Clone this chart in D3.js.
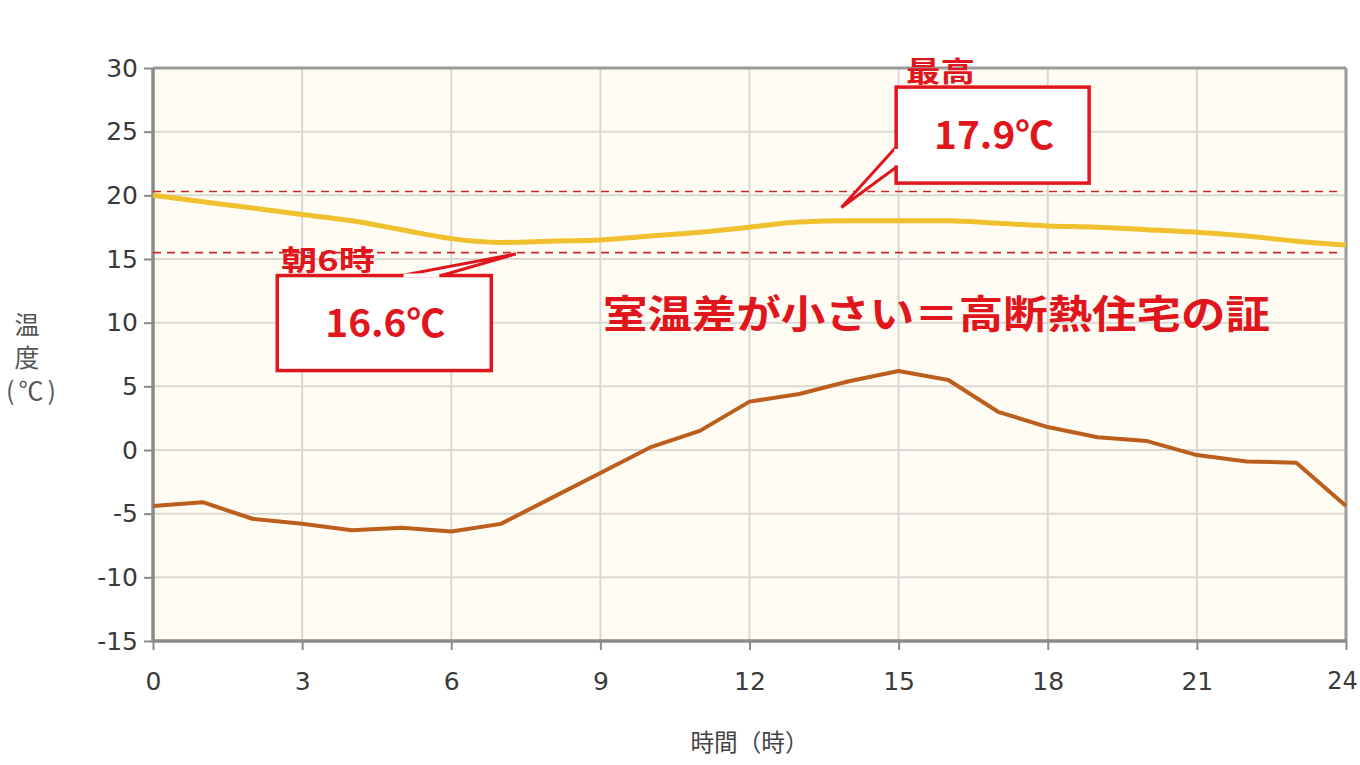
<!DOCTYPE html>
<html><head><meta charset="utf-8">
<script src="https://cdn.jsdelivr.net/npm/d3@7"></script>
<style>
html,body{margin:0;padding:0;background:#fff;}
svg{display:block;}
</style></head>
<body>
<svg id="c" width="1360" height="765"></svg>
<script>
const hours = d3.range(0, 25);
const indoor = [20.0,19.5,19.0,18.5,18.0,17.3,16.6,16.3,16.4,16.5,16.8,17.1,17.5,17.9,18.0,18.0,18.0,17.8,17.6,17.5,17.3,17.1,16.8,16.4,16.1];
const outdoor = [-4.4,-4.1,-5.4,-5.8,-6.3,-6.1,-6.4,-5.8,-3.8,-1.8,0.2,1.5,3.8,4.4,5.4,6.2,5.5,3.0,1.8,1.0,0.7,-0.4,-0.9,-1.0,-4.4];
const xTicks = [0,3,6,9,12,15,18,21,24];
const yTicks = [30,25,20,15,10,5,0,-5,-10,-15];
const refLines = [20.3, 15.5];
const maxLabel = "17.9℃", maxTitle = "最高";
const minLabel = "16.6℃", minTitle = "朝6時";
const headline = "室温差が小さい＝高断熱住宅の証";
const xTitle = "時間（時）";
const yTitle = ["温","度","(℃)"];

const svg = d3.select("#c");
const L = 153, R = 1346, T = 68, B = 641;
const x = d3.scaleLinear().domain([0,24]).range([L,R]);
const y = d3.scaleLinear().domain([-15,30]).range([B,T]);
const font = "'Noto Sans CJK JP','Noto Sans',sans-serif";
const red = "#e0161c";

// plot background
svg.append("rect").attr("x",L).attr("y",T).attr("width",R-L).attr("height",B-T).attr("fill","#fffcf4");

// grid
const g = svg.append("g");
g.selectAll(".gy").data(yTicks).join("line")
  .attr("x1",L).attr("x2",R).attr("y1",d=>y(d)).attr("y2",d=>y(d))
  .attr("stroke","#d8d8d4").attr("stroke-width",2);
g.selectAll(".gx").data(xTicks).join("line")
  .attr("y1",T).attr("y2",B).attr("x1",d=>x(d)).attr("x2",d=>x(d))
  .attr("stroke","#d8d8d4").attr("stroke-width",2);

// axes
const yAxis = d3.axisLeft(y).tickValues(yTicks).tickSize(9).tickPadding(6).tickFormat(d=>String(d));
const xAxis = d3.axisBottom(x).tickValues(xTicks).tickSize(9).tickPadding(22).tickFormat(d=>String(d));
const ya = svg.append("g").attr("transform",`translate(${L},0)`).call(yAxis);
const xa = svg.append("g").attr("transform",`translate(0,${B})`).call(xAxis);
[ya,xa].forEach(a=>{
  a.select(".domain").remove();
  a.selectAll(".tick line").attr("stroke","#8a8a8a").attr("stroke-width",2);
  a.selectAll(".tick text").attr("fill","#3a3a3a").style("font-family","'DejaVu Sans',sans-serif").style("font-size","25px");
});
xa.selectAll(".tick text").filter(d=>d===24).attr("dx",-4).style("font-size","24px");
// frame
svg.append("line").attr("x1",L).attr("x2",R).attr("y1",T).attr("y2",T).attr("stroke","#9a9a9a").attr("stroke-width",3);
svg.append("line").attr("x1",R).attr("x2",R).attr("y1",T).attr("y2",B).attr("stroke","#9a9a9a").attr("stroke-width",3);
svg.append("line").attr("x1",L).attr("x2",L).attr("y1",T).attr("y2",B+1).attr("stroke","#8a8a8a").attr("stroke-width",3.5);
svg.append("line").attr("x1",L).attr("x2",R).attr("y1",B).attr("y2",B).attr("stroke","#8a8a8a").attr("stroke-width",3.5);

// reference dashed lines
svg.selectAll(".ref").data(refLines).join("line")
  .attr("x1",L).attr("x2",R-6).attr("y1",d=>y(d)).attr("y2",d=>y(d))
  .attr("stroke","#c8282a").attr("stroke-width",1.6).attr("stroke-dasharray","8,6");

// lines
const line = d3.line().x((d,i)=>x(hours[i])).y(d=>y(d));
svg.append("path").datum(outdoor).attr("d",line).attr("fill","none")
  .attr("stroke","#bc5f1c").attr("stroke-width",4).attr("stroke-linejoin","round");
svg.append("path").datum(indoor).attr("d",line.curve(d3.curveMonotoneX)).attr("fill","none")
  .attr("stroke","#f0c02e").attr("stroke-width",5).attr("stroke-linejoin","round");

// axis titles
svg.append("text").attr("x",x(12)).attr("y",751).attr("text-anchor","middle")
  .attr("textLength",118).attr("lengthAdjust","spacingAndGlyphs")
  .attr("fill","#444").style("font-family",font).style("font-size","24px").text(xTitle);
svg.selectAll(".yt").data(yTitle).join("text")
  .attr("x",(d,i)=>i<2?27:31).attr("y",(d,i)=>334+i*33).attr("text-anchor","middle")
  .attr("textLength",(d,i)=>i<2?26:50).attr("lengthAdjust","spacing")
  .attr("fill","#555").style("font-family",font).style("font-size","25px").text(d=>d);

// callout: max
const cMax = svg.append("g");
cMax.append("path")
  .attr("d",`M${x(14.95)},${y(22.2)} L${x(13.85)},${y(19.05)} L${x(14.95)},${y(23.8)}`)
  .attr("fill","#fff").attr("stroke",red).attr("stroke-width",3).attr("stroke-linejoin","miter");
cMax.append("rect").attr("x",x(14.95)).attr("y",y(28.5)).attr("width",193).attr("height",96)
  .attr("fill","#fff").attr("stroke",red).attr("stroke-width",3.5);
cMax.append("path")
  .attr("d",`M${x(14.95)},${y(23.8)+2} L${x(14.95)},${y(22.2)-2}`)
  .attr("stroke","#fff").attr("stroke-width",4);
cMax.append("text").attr("x",x(14.95)+98).attr("y",y(28.5)+62).attr("text-anchor","middle")
  .attr("textLength",120).attr("lengthAdjust","spacingAndGlyphs")
  .attr("fill",red).style("font-family",font).style("font-weight","bold").style("font-size","38px").text(maxLabel);
cMax.append("text").attr("x",906).attr("y",82)
  .attr("textLength",69).attr("lengthAdjust","spacingAndGlyphs")
  .attr("fill",red).style("font-family",font).style("font-weight","bold").style("font-size","28px").text(maxTitle);

// callout: min
const cMin = svg.append("g");
cMin.append("path")
  .attr("d",`M${x(5)},${y(13.7)} L${x(7.3)},${y(15.4)} L${x(5.8)},${y(13.7)}`)
  .attr("fill","#fff").attr("stroke",red).attr("stroke-width",3).attr("stroke-linejoin","miter");
cMin.append("rect").attr("x",x(2.5)).attr("y",y(13.7)).attr("width",214).attr("height",95)
  .attr("fill","#fff").attr("stroke",red).attr("stroke-width",3.5);
cMin.append("path").attr("d",`M${x(5)+2},${y(13.7)} L${x(5.8)-2},${y(13.7)}`)
  .attr("stroke","#fff").attr("stroke-width",4);
cMin.append("text").attr("x",x(2.5)+108).attr("y",y(13.7)+61).attr("text-anchor","middle")
  .attr("textLength",120).attr("lengthAdjust","spacingAndGlyphs")
  .attr("fill",red).style("font-family",font).style("font-weight","bold").style("font-size","38px").text(minLabel);
cMin.append("text").attr("x",281).attr("y",271)
  .attr("textLength",94).attr("lengthAdjust","spacingAndGlyphs")
  .attr("fill",red).style("font-family",font).style("font-weight","bold").style("font-size","28px").text(minTitle);

// headline
svg.append("text").attr("x",603).attr("y",328).attr("textLength",667).attr("lengthAdjust","spacingAndGlyphs")
  .attr("fill",red).style("font-family",font).style("font-weight","bold").style("font-size","39px").text(headline);
</script>
</body></html>
